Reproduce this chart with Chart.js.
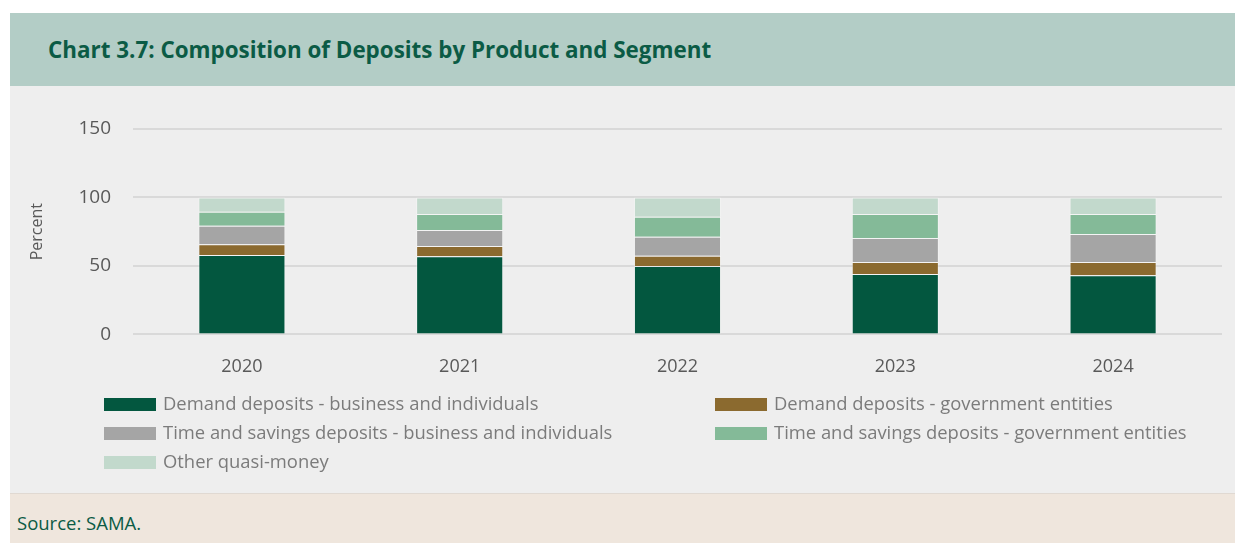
<!DOCTYPE html>
<html>
<head>
<meta charset="utf-8">
<script src="https://cdn.jsdelivr.net/npm/chart.js@4.4.0/dist/chart.umd.min.js"></script>
<style>
  body { margin: 0; background: #fff; width: 1245px; height: 543px; position: relative; overflow: hidden; font-family: "Open Sans", sans-serif; }
  #title { position: absolute; left: 10px; top: 13px; width: 1225px; height: 73px; background: #b3cdc6; }
  #title h1 { margin: 0; position: absolute; left: 38px; top: 22px; font-size: 22.4px; font-weight: bold; color: #0b5b45; line-height: 30px; }
  #panel { position: absolute; left: 10px; top: 86px; width: 1225px; height: 407px; background: #eeeeee; }
  #wrap { position: absolute; left: 0; top: 0; width: 1225px; height: 306px; }
  #legend { position: absolute; left: 94px; top: 306px; width: 1120px; font-size: 18.4px; color: #7b7b7b; }
  .item { position: absolute; height: 29px; line-height: 22px; white-space: nowrap; }
  .sw { display: inline-block; width: 52px; height: 13px; vertical-align: -1px; margin-right: 7px; }
  #source { position: absolute; left: 10px; top: 493px; width: 1225px; height: 50px; background: #efe6dd; border-top: 1px solid #e0d9d2; }
  #source span { position: absolute; left: 7px; top: 16px; font-size: 18.5px; color: #0b5b45; }
</style>
</head>
<body>
<div id="title"><h1>Chart 3.7: Composition of Deposits by Product and Segment</h1></div>
<div id="panel">
  <div id="wrap"><canvas id="c"></canvas></div>
  <div id="legend"></div>
</div>
<div id="source"><span>Source: SAMA.</span></div>
<script>
const years = ["2020", "2021", "2022", "2023", "2024"];
const seriesNames = [
  "Demand deposits - business and individuals",
  "Demand deposits - government entities",
  "Time and savings deposits - business and individuals",
  "Time and savings deposits - government entities",
  "Other quasi-money"
];
const demandBusiness = [58.0, 57.0, 50.0, 44.2, 43.2];
const demandGov = [7.8, 7.6, 7.5, 8.7, 9.7];
const timeBusiness = [13.6, 11.7, 13.9, 17.5, 20.4];
const timeGov = [10.2, 11.6, 14.5, 17.5, 14.6];
const otherQuasi = [10.4, 12.1, 14.1, 12.1, 12.1];
const yTicks = [0, 50, 100, 150];

const colors = ["#03573f", "#8b6a2f", "#a5a5a5", "#84ba98", "#c2d9cc"];
const values = [demandBusiness, demandGov, timeBusiness, timeGov, otherQuasi];

const datasets = seriesNames.map((name, i) => ({
  label: name,
  data: values[i],
  backgroundColor: colors[i],
  borderColor: "rgba(255,255,255,0.35)",
  borderWidth: 1,
  barPercentage: 0.4,
  categoryPercentage: 1
}));

new Chart(document.getElementById("c"), {
  type: "bar",
  data: { labels: years, datasets: datasets },
  options: {
    responsive: true,
    maintainAspectRatio: false,
    animation: false,
    layout: { padding: { top: 43, right: 13, left: 18, bottom: 0 } },
    plugins: { legend: { display: false }, tooltip: { enabled: false } },
    scales: {
      x: {
        stacked: true,
        grid: { display: false },
        border: { display: false },
        ticks: { color: "#595959", font: { family: "Open Sans", size: 18 }, padding: 14 }
      },
      y: {
        stacked: true,
        min: 0,
        max: 150,
        afterBuildTicks: s => { s.ticks = yTicks.map(v => ({ value: v })); },
        afterFit: s => { s.width = 105; },
        grid: { color: "#d9d9d9", lineWidth: 2, drawTicks: false },
        border: { display: false },
        ticks: { color: "#595959", font: { family: "Open Sans", size: 19 }, padding: 22 },
        title: { display: true, text: "Percent", color: "#595959", font: { family: "Open Sans", size: 16 }, padding: 0 }
      }
    }
  }
});

const legend = document.getElementById("legend");
seriesNames.forEach((name, i) => {
  const el = document.createElement("div");
  el.className = "item";
  el.style.left = (i % 2 === 0 ? 0 : 611) + "px";
  el.style.top = (Math.floor(i / 2) * 29) + "px";
  el.innerHTML = '<span class="sw" style="background:' + colors[i] + '"></span>' + name;
  legend.appendChild(el);
});
</script>
</body>
</html>
